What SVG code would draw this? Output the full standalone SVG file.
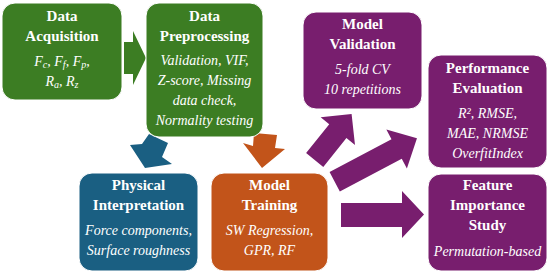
<svg xmlns="http://www.w3.org/2000/svg" width="550" height="275" viewBox="0 0 550 275">
<style>
.box{stroke:#ffffff;stroke-width:1}
.g{fill:#3c7d23}
.b{fill:#1a5f82}
.o{fill:#c2541a}
.p{fill:#781e6e}
.t{font-family:"Liberation Serif","Times New Roman",serif;font-weight:bold;font-size:15px;fill:#ffffff;text-anchor:middle}
.i{font-family:"Liberation Serif","Times New Roman",serif;font-style:italic;font-size:14px;fill:#ffffff;text-anchor:middle}
.s{font-size:10px}
</style>
<rect width="550" height="275" fill="#ffffff"/>
<g id="connectors">
  <polygon class="g" points="124,42 133,42 133,31 146,58 133,85 133,74 124,74"/>
  <polygon class="b" points="149,134 168,143 162,157 172,164 145,168 130,145 142,144"/>
  <polygon class="o" points="254,133 277,135 275,148 285,149 262,168 243,143 253,146"/>
  <polygon class="p" transform="translate(314.7,160) rotate(-51.3)" points="0,-11 37,-11 37,-22 59,0 37,22 37,11 0,11"/>
  <polygon class="p" transform="translate(334.7,181.7) rotate(-27.8)" points="0,-11 70,-11 70,-22 93,0 70,22 70,11 0,11"/>
  <polygon class="p" points="341,203 402,203 402,191 424,214.5 402,238 402,227 341,227"/>
</g>
<g id="data-acquisition">
  <rect class="box g" x="2" y="3" width="120" height="97" rx="13"/>
  <text class="t" x="62" y="21">Data</text>
  <text class="t" x="62" y="41">Acquisition</text>
  <text class="i" x="62" y="66">F<tspan class="s" dy="2">c</tspan><tspan dy="-2">, F</tspan><tspan class="s" dy="2">f</tspan><tspan dy="-2">, F</tspan><tspan class="s" dy="2">p</tspan><tspan dy="-2">,</tspan></text>
  <text class="i" x="62" y="86">R<tspan class="s" dy="2">a</tspan><tspan dy="-2">, R</tspan><tspan class="s" dy="2">z</tspan></text>
</g>
<g id="data-preprocessing">
  <rect class="box g" x="146" y="3" width="117" height="134" rx="13"/>
  <text class="t" x="204.5" y="21">Data</text>
  <text class="t" x="204.5" y="41">Preprocessing</text>
  <text class="i" x="204.5" y="65">Validation, VIF,</text>
  <text class="i" x="204.5" y="85">Z-score, Missing</text>
  <text class="i" x="204.5" y="105">data check,</text>
  <text class="i" x="204.5" y="125">Normality testing</text>
</g>
<g id="model-validation">
  <rect class="box p" x="303" y="12" width="119" height="97" rx="13"/>
  <text class="t" x="362.5" y="29">Model</text>
  <text class="t" x="362.5" y="49">Validation</text>
  <text class="i" x="362.5" y="74">5-fold CV</text>
  <text class="i" x="362.5" y="94">10 repetitions</text>
</g>
<g id="performance-evaluation">
  <rect class="box p" x="428" y="55" width="119" height="113" rx="13"/>
  <text class="t" x="487.5" y="73">Performance</text>
  <text class="t" x="487.5" y="93">Evaluation</text>
  <text class="i" x="487.5" y="118">R², RMSE,</text>
  <text class="i" x="487.5" y="138">MAE, NRMSE</text>
  <text class="i" x="487.5" y="158">OverfitIndex</text>
</g>
<g id="physical-interpretation">
  <rect class="box b" x="79" y="173" width="119" height="98" rx="13"/>
  <text class="t" x="138.5" y="190">Physical</text>
  <text class="t" x="138.5" y="210">Interpretation</text>
  <text class="i" x="138.5" y="235">Force components,</text>
  <text class="i" x="138.5" y="255">Surface roughness</text>
</g>
<g id="model-training">
  <rect class="box o" x="211" y="173" width="117" height="98" rx="13"/>
  <text class="t" x="269.5" y="190">Model</text>
  <text class="t" x="269.5" y="210">Training</text>
  <text class="i" x="269.5" y="235">SW Regression,</text>
  <text class="i" x="269.5" y="255">GPR, RF</text>
</g>
<g id="feature-importance-study">
  <rect class="box p" x="428" y="174" width="119" height="97" rx="13"/>
  <text class="t" x="487.5" y="190">Feature</text>
  <text class="t" x="487.5" y="210">Importance</text>
  <text class="t" x="487.5" y="230">Study</text>
  <text class="i" x="487.5" y="256">Permutation-based</text>
</g>
</svg>
